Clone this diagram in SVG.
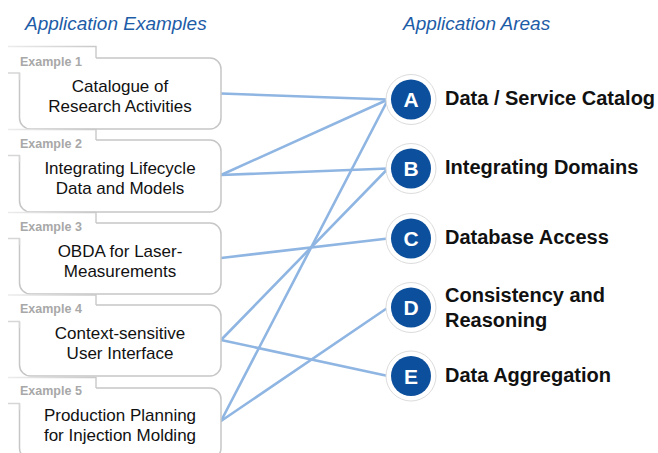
<svg xmlns="http://www.w3.org/2000/svg" width="658" height="453" viewBox="0 0 658 453">
<defs>
<linearGradient id="tg" x1="0" y1="0" x2="1" y2="0">
<stop offset="0" stop-color="#ececec"/>
<stop offset="1" stop-color="#c9c9c9"/>
</linearGradient>
</defs>
<style>
.hdr{font-family:"Liberation Sans",Arial,sans-serif;font-style:italic;font-size:19px;fill:#1d5ca7}
.tab{fill:none;stroke:url(#tg);stroke-width:1.4}
.tabl{fill:none;stroke:#d6d6d6;stroke-width:1.3}
.cover{fill:#fff}
.tabt{font-family:"Liberation Sans",Arial,sans-serif;font-weight:bold;font-size:12.5px;fill:#a8a8a8}
.box{fill:#fff;stroke:#c6c6c6;stroke-width:1.5}
.bt{font-family:"Liberation Sans",Arial,sans-serif;font-size:17px;fill:#111;text-anchor:middle}
.con{stroke:#8fb5e2;stroke-width:2.6;fill:none;stroke-linecap:round}
.ring{fill:#fff;stroke:#dcdcdc;stroke-width:1}
.circ{fill:#0c4f9c}
.lt{font-family:"Liberation Sans",Arial,sans-serif;font-weight:bold;font-size:21px;fill:#fff;text-anchor:middle}
.at{font-family:"Liberation Sans",Arial,sans-serif;font-weight:bold;font-size:20px;fill:#111}
</style>
<rect width="658" height="453" fill="#fff"/>
<text class="hdr" x="25" y="30">Application Examples</text>
<text class="hdr" x="403" y="30">Application Areas</text>

<g id="connectors">
<line class="con" x1="221" y1="93.5" x2="388" y2="99.5"/>
<line class="con" x1="221" y1="175" x2="388" y2="99.5"/>
<line class="con" x1="221" y1="175" x2="388" y2="168.5"/>
<line class="con" x1="221" y1="258" x2="388" y2="238.5"/>
<line class="con" x1="221" y1="340" x2="388" y2="168.5"/>
<line class="con" x1="221" y1="340" x2="388" y2="376"/>
<line class="con" x1="221" y1="421" x2="388" y2="99.5"/>
<line class="con" x1="221" y1="421" x2="388" y2="307.5"/>
</g>

<g id="ex1">
<rect class="box" x="19.5" y="58" width="201.5" height="71" rx="11"/>
<rect class="cover" x="8" y="46.5" width="88" height="26.5"/>
<path class="tab" d="M8,46.5 H96 V58"/>
<path class="tabl" d="M8,73 H19.5 V80"/>
<text class="tabt" x="20" y="65.5">Example 1</text>
<text class="bt" x="120" y="92">Catalogue of</text>
<text class="bt" x="120" y="112">Research Activities</text>
</g>
<g id="ex2">
<rect class="box" x="19.5" y="140" width="201.5" height="72" rx="11"/>
<rect class="cover" x="8" y="129.5" width="88" height="26"/>
<path class="tab" d="M8,129.5 H96 V140"/>
<path class="tabl" d="M8,155.5 H19.5 V162"/>
<text class="tabt" x="20" y="148">Example 2</text>
<text class="bt" x="120" y="174">Integrating Lifecycle</text>
<text class="bt" x="120" y="194">Data and Models</text>
</g>
<g id="ex3">
<rect class="box" x="19.5" y="223" width="201.5" height="71" rx="11"/>
<rect class="cover" x="8" y="212.5" width="88" height="26"/>
<path class="tab" d="M8,212.5 H96 V223"/>
<path class="tabl" d="M8,238.5 H19.5 V245"/>
<text class="tabt" x="20" y="230.5">Example 3</text>
<text class="bt" x="120" y="257">OBDA for Laser-</text>
<text class="bt" x="120" y="277">Measurements</text>
</g>
<g id="ex4">
<rect class="box" x="19.5" y="305" width="201.5" height="71" rx="11"/>
<rect class="cover" x="8" y="295" width="88" height="27"/>
<path class="tab" d="M8,295 H96 V305"/>
<path class="tabl" d="M8,321.5 H19.5 V328"/>
<text class="tabt" x="20" y="312.5">Example 4</text>
<text class="bt" x="120" y="339">Context-sensitive</text>
<text class="bt" x="120" y="359">User Interface</text>
</g>
<g id="ex5">
<rect class="box" x="19.5" y="388" width="201.5" height="71" rx="11"/>
<rect class="cover" x="8" y="377.5" width="88" height="26"/>
<path class="tab" d="M8,377.5 H96 V388"/>
<path class="tabl" d="M8,403.5 H19.5 V410"/>
<text class="tabt" x="20" y="395">Example 5</text>
<text class="bt" x="120" y="421">Production Planning</text>
<text class="bt" x="120" y="441">for Injection Molding</text>
</g>

<g id="areaA">
<circle class="ring" cx="411" cy="99.5" r="25"/>
<circle class="circ" cx="411" cy="99.5" r="20"/>
<text class="lt" x="411" y="107">A</text>
<text class="at" x="445" y="105">Data / Service Catalog</text>
</g>
<g id="areaB">
<circle class="ring" cx="411" cy="168.5" r="25"/>
<circle class="circ" cx="411" cy="168.5" r="20"/>
<text class="lt" x="411" y="176">B</text>
<text class="at" x="445" y="174">Integrating Domains</text>
</g>
<g id="areaC">
<circle class="ring" cx="411" cy="238.5" r="25"/>
<circle class="circ" cx="411" cy="238.5" r="20"/>
<text class="lt" x="411" y="246">C</text>
<text class="at" x="445" y="244">Database Access</text>
</g>
<g id="areaD">
<circle class="ring" cx="411" cy="307.5" r="25"/>
<circle class="circ" cx="411" cy="307.5" r="20"/>
<text class="lt" x="411" y="315">D</text>
<text class="at" x="445" y="302">Consistency and</text>
<text class="at" x="445" y="327">Reasoning</text>
</g>
<g id="areaE">
<circle class="ring" cx="411" cy="376" r="25"/>
<circle class="circ" cx="411" cy="376" r="20"/>
<text class="lt" x="411" y="383.5">E</text>
<text class="at" x="445" y="382">Data Aggregation</text>
</g>
</svg>
